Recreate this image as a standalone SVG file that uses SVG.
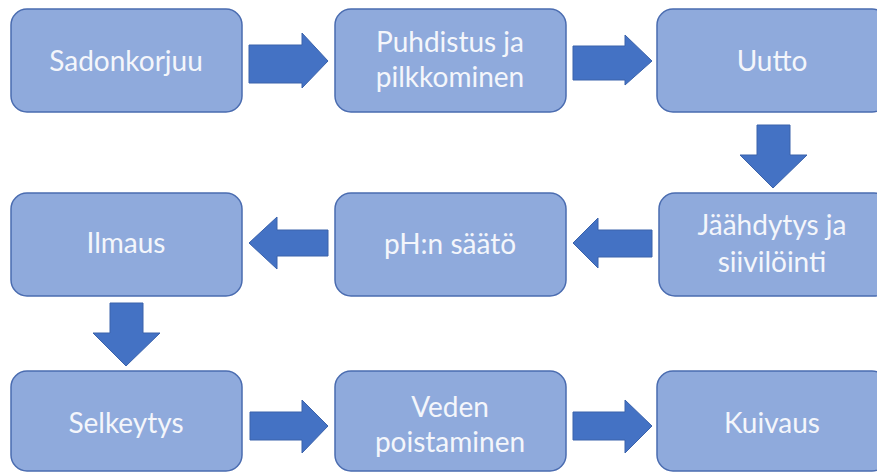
<svg xmlns="http://www.w3.org/2000/svg" width="877" height="472" viewBox="0 0 877 472">
<defs>
<style>
.box{fill:#8faadc;stroke:#4a6cb0;stroke-width:1.5}
.lbl{font-family:Lato,"Open Sans","Liberation Sans",sans-serif;font-size:28px;fill:#f4f6fb;text-anchor:middle}
.arr{fill:#4472c4;stroke:#3a62ab;stroke-width:1}
</style>
</defs>
<rect width="877" height="472" fill="#ffffff"/>
<g id="connectors">
<polygon class="arr" points="249,45 302,45 302,33 328,61 302,88 302,83 249,83" transform="translate(0,0)"/>
<polygon class="arr" points="573,46 625,46 625,35 652,61 625,85 625,80 573,80"/>
<polygon class="arr" points="757,125 790,125 790,155 807,155 773,188 740,155 757,155"/>
<polygon class="arr" points="652,230 598,230 598,218 573,243 598,268 598,257 652,257"/>
<polygon class="arr" points="328,230 277,230 277,217 249,243 277,269 277,256 328,256"/>
<polygon class="arr" points="110,303 143,303 143,333 160,333 126,366 93,333 110,333"/>
<polygon class="arr" points="250,412 302,412 302,400 328,426 302,453 302,440 250,440"/>
<polygon class="arr" points="573,412 625,412 625,400 652,426 625,453 625,440 573,440"/>
</g>
<g id="n1"><rect class="box" x="11" y="9" width="231" height="103" rx="16"/><text class="lbl" x="126" y="71">Sadonkorjuu</text></g>
<g id="n2"><rect class="box" x="335" y="9" width="231" height="103" rx="16"/><text class="lbl" x="450" y="52">Puhdistus ja</text><text class="lbl" x="450" y="87">pilkkominen</text></g>
<g id="n3"><rect class="box" x="657" y="9" width="231" height="103" rx="16"/><text class="lbl" x="772" y="71">Uutto</text></g>
<g id="n4"><rect class="box" x="659" y="193" width="231" height="103" rx="16"/><text class="lbl" x="772" y="235">Jäähdytys ja</text><text class="lbl" x="772" y="272">siivilöinti</text></g>
<g id="n5"><rect class="box" x="335" y="193" width="231" height="103" rx="16"/><text class="lbl" x="450" y="254">pH:n säätö</text></g>
<g id="n6"><rect class="box" x="11" y="193" width="231" height="103" rx="16"/><text class="lbl" x="126" y="253">Ilmaus</text></g>
<g id="n7"><rect class="box" x="11" y="371" width="231" height="100" rx="16"/><text class="lbl" x="126" y="433">Selkeytys</text></g>
<g id="n8"><rect class="box" x="335" y="371" width="231" height="100" rx="16"/><text class="lbl" x="450" y="417">Veden</text><text class="lbl" x="450" y="452">poistaminen</text></g>
<g id="n9"><rect class="box" x="657" y="371" width="231" height="100" rx="16"/><text class="lbl" x="772" y="433">Kuivaus</text></g>
</svg>
